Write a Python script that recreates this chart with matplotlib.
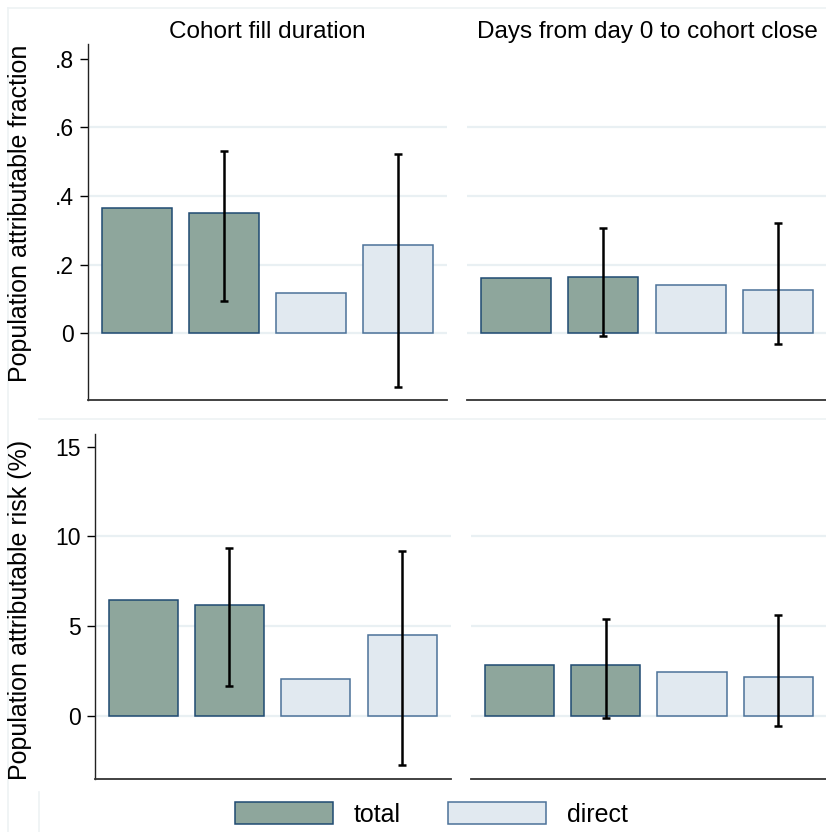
import numpy as np
import matplotlib
matplotlib.use('Agg')
import matplotlib.pyplot as plt
from matplotlib.patches import Patch
from matplotlib.lines import Line2D

plt.rcParams['font.family'] = ['Liberation Sans', 'DejaVu Sans']

# bar order: total, total, direct, direct (2nd and 4th carry a 95% CI)
groups = ['total', 'total', 'direct', 'direct']
panel_titles = ['Cohort fill duration', 'Days from day 0 to cohort close']

paf_fill = [0.365, 0.352, 0.117, 0.257]
paf_fill_lo = [np.nan, 0.094, np.nan, -0.155]
paf_fill_hi = [np.nan, 0.532, np.nan, 0.523]
paf_close = [0.160, 0.163, 0.141, 0.126]
paf_close_lo = [np.nan, -0.007, np.nan, -0.030]
paf_close_hi = [np.nan, 0.307, np.nan, 0.321]

par_fill = [6.43, 6.17, 2.03, 4.48]
par_fill_lo = [np.nan, 1.64, np.nan, -2.75]
par_fill_hi = [np.nan, 9.33, np.nan, 9.20]
par_close = [2.81, 2.81, 2.45, 2.17]
par_close_lo = [np.nan, -0.15, np.nan, -0.56]
par_close_hi = [np.nan, 5.39, np.nan, 5.63]

paf_ticks = [0, 0.2, 0.4, 0.6, 0.8]
paf_ticklabels = ['0', '.2', '.4', '.6', '.8']
par_ticks = [0, 5, 10, 15]

fill_col = {'total': '#8ea69c', 'direct': '#e1e9f0'}
edge_col = {'total': '#1f4a72', 'direct': '#4c7299'}
grid_col = '#e9f0f3'

W, H = 826, 832
fig = plt.figure(figsize=(W / 100, H / 100), dpi=100)


def px_axes(x0, y0, x1, y1):
    return fig.add_axes([x0 / W, 1 - y1 / H, (x1 - x0) / W, (y1 - y0) / H])


def draw_panel(ax, vals, lo, hi, ylim, ticks, show_y):
    x = np.arange(1, len(vals) + 1)
    ax.set_xlim(0.44, 4.56)
    ax.set_ylim(*ylim)
    for t in ticks[:-1]:
        ax.axhline(t, color=grid_col, lw=1.6, zorder=0)
    for xi, v, g in zip(x, vals, groups):
        ax.bar(xi, v, width=0.8, color=fill_col[g], edgecolor=edge_col[g],
               linewidth=1.1, zorder=2)
    lo = np.array(lo)
    hi = np.array(hi)
    m = ~np.isnan(lo)
    mid = (lo[m] + hi[m]) / 2
    ax.errorbar(x[m], mid, yerr=(hi[m] - lo[m]) / 2, fmt='none', ecolor='black',
                elinewidth=1.8, capsize=2.8, capthick=1.8, zorder=3)
    for s in ['top', 'right']:
        ax.spines[s].set_visible(False)
    ax.spines['bottom'].set_color('#333333')
    ax.spines['bottom'].set_linewidth(1.3)
    ax.set_xticks([])
    if show_y:
        ax.spines['left'].set_color('#222222')
        ax.spines['left'].set_linewidth(1.0)
        ax.set_yticks(ticks)
        ax.tick_params(axis='y', length=6, width=1.0, pad=4, labelsize=16.5)
    else:
        ax.spines['left'].set_visible(False)
        ax.set_yticks([])


ax1 = px_axes(88, 44, 447, 400)
ax2 = px_axes(467.3, 44, 826.7, 400)
ax3 = px_axes(94.7, 434, 450.7, 778.7)
ax4 = px_axes(471, 434, 826.7, 778.7)

draw_panel(ax1, paf_fill, paf_fill_lo, paf_fill_hi, (-0.194, 0.843), paf_ticks, True)
ax1.set_yticklabels(paf_ticklabels)
draw_panel(ax2, paf_close, paf_close_lo, paf_close_hi, (-0.194, 0.843), paf_ticks, False)
draw_panel(ax3, par_fill, par_fill_lo, par_fill_hi, (-3.51, 15.71), par_ticks, True)
draw_panel(ax4, par_close, par_close_lo, par_close_hi, (-3.51, 15.71), par_ticks, False)

ax1.set_title(panel_titles[0], fontsize=17.5, pad=4)
ax2.set_title(panel_titles[1], fontsize=17.5, pad=4)

fig.text(20 / W, 1 - 213 / H, 'Population attributable fraction', rotation=90,
         fontsize=18, ha='center', va='center')
fig.text(20.5 / W, 1 - 610 / H, 'Population attributable risk (%)', rotation=90,
         fontsize=18, ha='center', va='center')

# faint region outlines, as in the Stata combined graph
frame = '#edf2f4'
for xs, ys in [((8, 826), (8, 8)), ((8, 8), (8, 832)),
               ((39, 826), (418.5, 418.5)), ((38.5, 38.5), (792, 832))]:
    fig.add_artist(Line2D([v / W for v in xs], [1 - v / H for v in ys],
                          color=frame, lw=1.2))

handles = [Patch(facecolor=fill_col[g], edgecolor=edge_col[g], linewidth=1.1)
           for g in ['total', 'direct']]
fig.legend(handles, ['total', 'direct'], loc='center',
           bbox_to_anchor=(431.5 / W, 1 - 814.5 / H), ncol=2, frameon=False,
           fontsize=18, handlelength=3.9, handleheight=0.95, handletextpad=0.85,
           columnspacing=1.9, borderpad=0)

fig.savefig('out.png', dpi=100)
